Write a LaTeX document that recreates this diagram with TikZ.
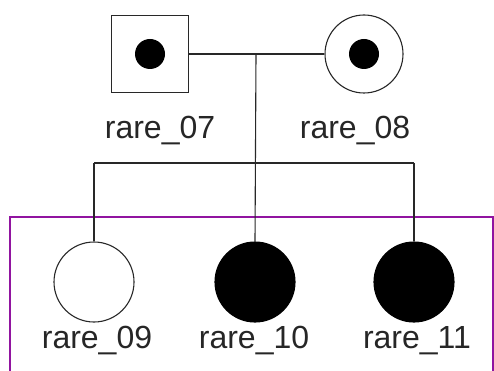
\documentclass[tikz,border=0pt]{standalone}
\usepackage{fontspec}
\setmainfont{Liberation Sans}
\definecolor{framepurple}{RGB}{145,20,160}
\definecolor{linegray}{RGB}{40,40,40}
\begin{document}
\begin{tikzpicture}[x=1pt,y=-1pt,
  person/.style={draw=linegray,line width=1.1pt,fill=white,inner sep=0pt},
  male/.style={person,rectangle,minimum size=77pt},
  female/.style={person,circle,minimum size=78pt},
  affected/.style={fill=black,draw=black},
  carrier/.style={circle,fill=black,inner sep=0pt,minimum size=30pt},
  link/.style={draw=linegray,line width=1.1pt},
  lbl/.style={font=\fontsize{32}{34}\selectfont,text=black!85,inner sep=0pt}]
\useasboundingbox (0,0) rectangle (494,371);

% frame around the third generation
\draw[framepurple,line width=2pt] (10,380) -- (10,217) -- (493,217) -- (493,380);

% parents
\node[male]   (p07) at (150,54) {};
\node[female] (p08) at (364,54) {};
\node[carrier] (d07) at (p07.center) {};
\node[carrier] (d08) at (p08.center) {};
\node[lbl] (l07) at (160,131) {rare\_07};
\node[lbl] (l08) at (355,131) {rare\_08};

% children
\node[female,minimum size=80pt] (c09) at (94,282) {};
\node[female,affected,minimum size=80pt] (c10) at (255,282) {};
\node[female,affected,minimum size=80pt] (c11) at (414,282) {};
\node[lbl] (l09) at (97,341) {rare\_09};
\node[lbl] (l10) at (254,341) {rare\_10};
\node[lbl] (l11) at (417,341) {rare\_11};

% mating line, descent line and sibship line
\coordinate (mate) at (256,54);
\coordinate (s09) at (94,163);
\coordinate (s10) at (256,163);
\coordinate (s11) at (414,163);
\draw[link] (p07.east) -- (p08.west);
\draw[link] (mate) -- (c10.north);
\draw[link] (s09) -- (s11);
\draw[link] (s09) -- (c09.north);
\draw[link] (s11) -- (c11.north);
\end{tikzpicture}
\end{document}
